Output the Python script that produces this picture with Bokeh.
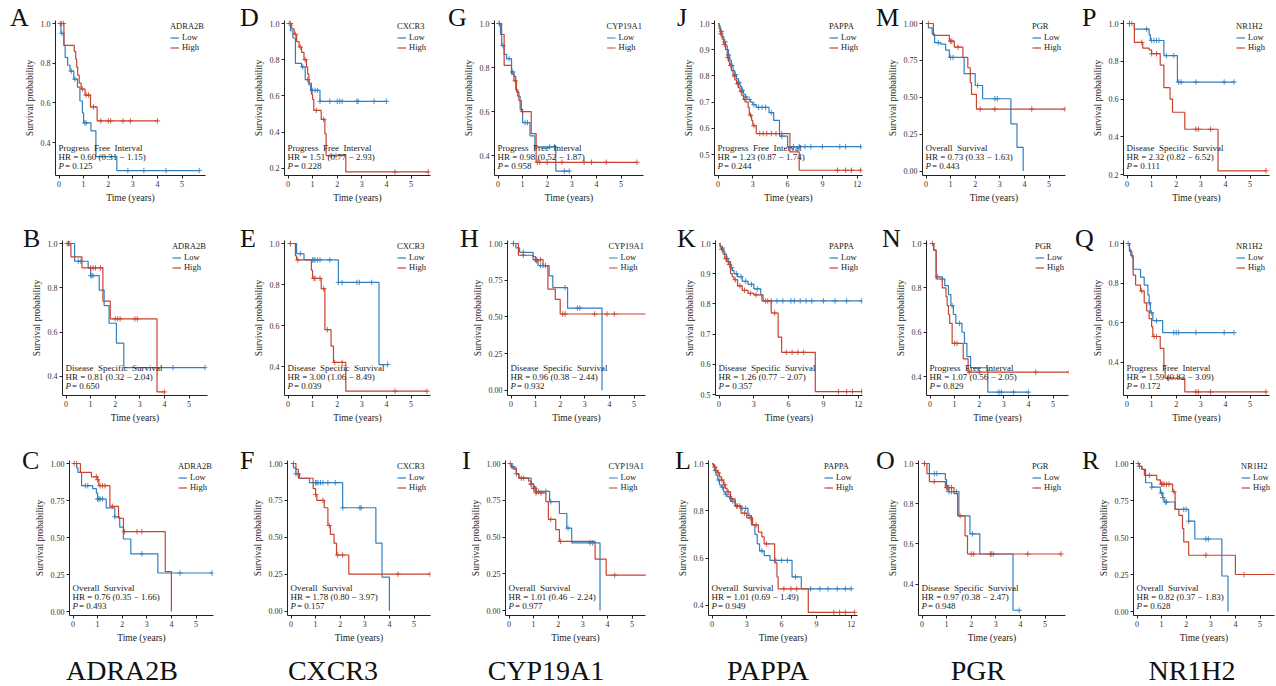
import numpy as np
from bokeh.plotting import figure
from bokeh.models import (Range1d, FixedTicker, Label, Legend, LegendItem,
                          PrintfTickFormatter, Div)
from bokeh.layouts import row, column
from bokeh.embed import file_html
from bokeh.resources import INLINE

# ---------------- data ----------------
GENES = ["ADRA2B", "CXCR3", "CYP19A1", "PAPPA", "PGR", "NR1H2"]
GRID = [["A", "D", "G", "J", "M", "P"],
        ["B", "E", "H", "K", "N", "Q"],
        ["C", "F", "I", "L", "O", "R"]]
ENDPOINT = {"PFI": "Progress \u00a0Free \u00a0Interval", "DSS": "Disease \u00a0Specific \u00a0Survival",
            "OS": "Overall \u00a0Survival"}
PANEL_ENDPOINT = {"A": "PFI", "D": "PFI", "G": "PFI", "J": "PFI", "M": "OS", "P": "DSS",
                  "B": "DSS", "E": "DSS", "H": "DSS", "K": "DSS", "N": "PFI", "Q": "PFI",
                  "C": "OS", "F": "OS", "I": "OS", "L": "OS", "O": "DSS", "R": "OS"}
HR = {"A": "0.60", "D": "1.51", "G": "0.98", "J": "1.23", "M": "0.73", "P": "2.32",
      "B": "0.81", "E": "3.00", "H": "0.96", "K": "1.26", "N": "1.07", "Q": "1.59",
      "C": "0.76", "F": "1.78", "I": "1.01", "L": "1.01", "O": "0.97", "R": "0.82"}
HR_LO = {"A": "0.31", "D": "0.77", "G": "0.52", "J": "0.87", "M": "0.33", "P": "0.82",
         "B": "0.32", "E": "1.06", "H": "0.38", "K": "0.77", "N": "0.56", "Q": "0.82",
         "C": "0.35", "F": "0.80", "I": "0.46", "L": "0.69", "O": "0.38", "R": "0.37"}
HR_HI = {"A": "1.15", "D": "2.93", "G": "1.87", "J": "1.74", "M": "1.63", "P": "6.52",
         "B": "2.04", "E": "8.49", "H": "2.44", "K": "2.07", "N": "2.05", "Q": "3.09",
         "C": "1.66", "F": "3.97", "I": "2.24", "L": "1.49", "O": "2.47", "R": "1.83"}
PVAL = {"A": "0.125", "D": "0.228", "G": "0.958", "J": "0.244", "M": "0.443", "P": "0.111",
        "B": "0.650", "E": "0.039", "H": "0.932", "K": "0.357", "N": "0.829", "Q": "0.172",
        "C": "0.493", "F": "0.157", "I": "0.977", "L": "0.949", "O": "0.948", "R": "0.628"}

# Kaplan-Meier curves: event times (years), survival after event, censor times
A_low_t = [0.08, 0.2, 0.25, 0.35, 0.45, 0.6, 0.75, 0.85, 0.95, 1.0, 1.3, 1.5, 2.35]
A_low_s = [0.95, 0.89, 0.83, 0.79, 0.76, 0.72, 0.68, 0.61, 0.55, 0.50, 0.46, 0.33, 0.26]
A_low_c = [0.12, 0.5, 0.65, 1.05, 1.1, 2.8, 3.45, 4.35, 5.7]
A_high_t = [0.2, 0.62, 0.68, 0.72, 0.76, 0.82, 0.9, 1.06, 1.28, 1.55]
A_high_s = [0.89, 0.86, 0.82, 0.78, 0.74, 0.70, 0.67, 0.64, 0.58, 0.51]
A_high_c = [0.05, 0.1, 0.18, 0.95, 1.1, 1.2, 1.4, 1.7, 2.0, 2.1, 2.6, 2.9, 4.0]

D_low_t = [0.1, 0.2, 0.3, 0.55, 0.7, 0.85, 0.92, 1.3]
D_low_s = [0.96, 0.92, 0.78, 0.76, 0.69, 0.66, 0.63, 0.57]
D_low_c = [0.05, 0.6, 0.8, 1.0, 1.1, 1.2, 1.3, 1.7, 2.0, 2.1, 2.2, 2.8, 2.85, 3.5, 4.0]
D_high_t = [0.15, 0.25, 0.35, 0.45, 0.55, 0.65, 0.75, 0.8, 0.85, 0.95, 1.0, 1.05, 1.35, 1.5, 1.55, 2.35]
D_high_s = [0.97, 0.94, 0.90, 0.87, 0.84, 0.80, 0.76, 0.72, 0.67, 0.61, 0.58, 0.52, 0.47, 0.39, 0.27, 0.18]
D_high_c = [0.1, 0.3, 0.5, 0.7, 1.15, 1.45, 1.75, 1.95, 4.35, 5.7]

G_low_t = [0.1, 0.15, 0.25, 0.35, 0.55, 0.65, 0.72, 0.8, 0.9, 1.0, 1.3, 1.5, 2.35]
G_low_s = [0.95, 0.90, 0.86, 0.84, 0.78, 0.76, 0.70, 0.67, 0.61, 0.55, 0.49, 0.44, 0.33]
G_low_c = [0.05, 0.2, 0.45, 0.6, 1.1, 1.2, 2.1, 2.3, 2.7, 2.9]
G_high_t = [0.15, 0.25, 0.55, 0.65, 0.75, 0.85, 0.95, 1.35, 1.55]
G_high_s = [0.95, 0.81, 0.77, 0.74, 0.69, 0.65, 0.60, 0.50, 0.37]
G_high_c = [0.05, 0.7, 1.0, 1.6, 1.7, 2.0, 2.6, 3.5, 3.8, 4.4, 5.65]

J_low_t = [0.1, 0.2, 0.35, 0.5, 0.65, 0.8, 0.9, 1.0, 1.15, 1.3, 1.45, 1.6, 1.75, 1.9, 2.05, 2.2,
           2.35, 2.5, 2.8, 3.0, 3.3, 4.4, 4.8, 5.3, 6.0]
J_low_s = [0.99, 0.97, 0.95, 0.93, 0.915, 0.90, 0.88, 0.86, 0.84, 0.82, 0.805, 0.79, 0.775, 0.76,
           0.745, 0.73, 0.72, 0.71, 0.70, 0.69, 0.68, 0.66, 0.63, 0.57, 0.53]
J_low_c = [0.3, 0.6, 0.9, 1.2, 1.5, 1.8, 2.1, 2.4, 2.7, 3.1, 3.5, 3.8, 4.1, 4.6, 5.5, 6.5, 7.0,
           7.5, 8.0, 9.0, 10.5, 11.0, 12.3]
J_high_t = [0.1, 0.2, 0.35, 0.5, 0.65, 0.8, 0.9, 1.0, 1.15, 1.3, 1.45, 1.6, 1.75, 1.9, 2.05, 2.2,
            2.4, 2.6, 2.7, 2.9, 3.0, 3.3, 6.2, 7.0]
J_high_s = [0.98, 0.96, 0.94, 0.92, 0.90, 0.87, 0.855, 0.84, 0.82, 0.80, 0.785, 0.77, 0.755, 0.74,
            0.725, 0.71, 0.70, 0.68, 0.65, 0.63, 0.61, 0.58, 0.51, 0.44]
J_high_c = [0.25, 0.55, 0.85, 1.1, 1.4, 1.7, 2.0, 2.3, 2.8, 3.1, 3.6, 3.9, 4.2, 4.6, 5.0, 5.5,
            10.3, 11.0, 11.5, 12.3]

M_low_t = [0.1, 0.25, 0.35, 0.6, 0.8, 0.95, 1.55, 2.0, 2.3, 3.45, 3.7, 3.95]
M_low_s = [0.97, 0.93, 0.87, 0.86, 0.82, 0.77, 0.66, 0.58, 0.49, 0.32, 0.16, 0.0]
M_low_c = [0.5, 1.0, 1.1, 2.1, 2.8, 2.9]
M_high_t = [0.3, 0.95, 1.15, 1.5, 1.7, 1.8, 1.85, 2.05]
M_high_s = [0.92, 0.88, 0.84, 0.77, 0.70, 0.60, 0.52, 0.42]
M_high_c = [0.1, 1.0, 1.05, 1.3, 2.2, 2.8, 4.3, 5.65]

P_low_t = [0.3, 0.9, 0.95, 1.5, 2.05]
P_low_s = [0.97, 0.94, 0.91, 0.83, 0.69]
P_low_c = [0.1, 0.2, 0.8, 1.0, 1.1, 1.2, 1.3, 1.6, 1.9, 2.1, 2.2, 2.8, 3.95, 4.35]
P_high_t = [0.3, 0.64, 0.9, 1.0, 1.35, 1.5, 1.75, 1.85, 2.35, 3.7]
P_high_s = [0.90, 0.87, 0.86, 0.84, 0.78, 0.66, 0.60, 0.53, 0.44, 0.22]
P_high_c = [0.1, 0.6, 1.0, 1.2, 2.8, 2.9, 3.4, 5.65]

B_low_t = [0.35, 0.9, 1.0, 1.35, 1.55, 1.75, 2.05, 2.35]
B_low_s = [0.92, 0.89, 0.855, 0.79, 0.72, 0.64, 0.55, 0.44]
B_low_c = [0.1, 0.5, 0.6, 1.0, 1.05, 1.1, 4.35, 5.65]
B_high_t = [0.2, 0.65, 1.5, 1.8, 3.7]
B_high_s = [0.94, 0.89, 0.74, 0.66, 0.33]
B_high_c = [0.05, 0.1, 0.15, 1.0, 1.1, 1.2, 1.4, 2.0, 2.1, 2.2, 2.8, 2.9, 4.0]

E_low_t = [0.35, 0.65, 2.05, 3.7]
E_low_s = [0.95, 0.92, 0.81, 0.41]
E_low_c = [0.1, 0.5, 1.0, 1.05, 1.1, 1.2, 1.3, 1.7, 2.05, 2.2, 2.8, 2.9, 3.4, 4.05]
E_high_t = [0.3, 0.35, 0.95, 1.0, 1.35, 1.5, 1.75, 1.85, 2.35]
E_high_s = [0.94, 0.92, 0.87, 0.83, 0.78, 0.58, 0.50, 0.42, 0.28]
E_high_c = [0.1, 0.4, 1.05, 1.1, 1.3, 1.45, 1.6, 1.9, 2.2, 4.35, 5.65]

H_low_t = [0.2, 0.35, 0.9, 1.0, 1.1, 1.55, 1.7, 2.3, 3.7]
H_low_s = [0.97, 0.94, 0.91, 0.88, 0.85, 0.78, 0.70, 0.56, 0.0]
H_low_c = [0.1, 0.5, 1.05, 1.2, 1.3, 2.2, 2.7, 2.8]
H_high_t = [0.3, 0.9, 1.3, 1.5, 1.8, 2.0]
H_high_s = [0.92, 0.89, 0.85, 0.69, 0.62, 0.52]
H_high_c = [0.1, 0.5, 1.0, 1.05, 1.2, 1.4, 2.1, 2.2, 3.4, 3.9, 4.2, 5.65]

K_low_t = [0.1, 0.2, 0.35, 0.5, 0.65, 0.8, 1.0, 1.15, 1.3, 1.6, 2.0, 2.5, 3.0, 3.6, 3.8]
K_low_s = [0.99, 0.985, 0.975, 0.965, 0.95, 0.94, 0.92, 0.91, 0.90, 0.89, 0.875, 0.865, 0.85, 0.83, 0.81]
K_low_c = [0.3, 0.7, 1.1, 1.5, 1.9, 2.3, 2.8, 3.3, 4.0, 4.5, 5.0, 5.5, 6.2, 6.5, 7.0, 7.5, 8.0,
           9.0, 10.0, 11.0, 12.3]
K_high_t = [0.1, 0.2, 0.35, 0.5, 0.65, 0.8, 1.0, 1.15, 1.3, 1.6, 2.0, 2.5, 3.0, 3.7, 4.5, 5.1, 5.4, 8.3]
K_high_s = [0.99, 0.98, 0.965, 0.95, 0.94, 0.93, 0.90, 0.89, 0.88, 0.86, 0.845, 0.835, 0.83, 0.81,
            0.77, 0.69, 0.64, 0.51]
K_high_c = [0.25, 0.6, 0.9, 1.4, 1.8, 2.2, 2.7, 3.2, 4.2, 4.8, 5.8, 6.3, 6.8, 7.3, 10.3, 11.0, 11.5, 12.3]

N_low_t = [0.15, 0.25, 0.5, 0.6, 0.75, 0.85, 0.95, 1.05, 1.3, 1.4, 1.5, 1.65, 2.35]
N_low_s = [0.97, 0.85, 0.84, 0.81, 0.77, 0.72, 0.68, 0.64, 0.60, 0.55, 0.49, 0.44, 0.33]
N_low_c = [0.3, 0.5, 0.9, 1.2, 2.8, 2.9, 3.4, 4.0]
N_high_t = [0.15, 0.25, 0.5, 0.65, 0.7, 0.75, 0.8, 0.9, 1.35, 1.55]
N_high_s = [0.97, 0.84, 0.80, 0.76, 0.72, 0.68, 0.64, 0.55, 0.48, 0.42]
N_high_c = [0.1, 1.0, 1.1, 1.6, 2.0, 4.3, 5.65]

Q_low_t = [0.1, 0.15, 0.25, 0.55, 0.7, 0.85, 0.9, 0.95, 1.05, 1.45]
Q_low_s = [0.97, 0.94, 0.87, 0.83, 0.79, 0.74, 0.70, 0.65, 0.61, 0.55]
Q_low_c = [0.05, 0.9, 1.0, 1.2, 1.9, 2.0, 2.1, 2.8, 3.95, 4.35]
Q_high_t = [0.1, 0.2, 0.25, 0.35, 0.55, 0.7, 0.8, 0.9, 1.0, 1.05, 1.35, 1.5, 1.55, 2.35]
Q_high_s = [0.96, 0.93, 0.84, 0.79, 0.76, 0.70, 0.66, 0.62, 0.58, 0.53, 0.47, 0.38, 0.32, 0.25]
Q_high_c = [0.6, 1.1, 1.2, 1.7, 2.8, 2.9, 3.4, 5.65]

C_low_t = [0.15, 0.2, 0.35, 0.8, 0.95, 1.0, 1.35, 1.7, 1.9, 2.05, 2.35, 3.45]
C_low_s = [0.97, 0.94, 0.85, 0.83, 0.80, 0.76, 0.70, 0.64, 0.57, 0.49, 0.39, 0.26]
C_low_c = [0.5, 0.6, 1.0, 1.05, 1.1, 1.2, 1.7, 2.8, 4.35, 5.65]
C_high_t = [0.3, 0.75, 1.0, 1.05, 1.5, 1.85, 2.05, 3.75, 4.0]
C_high_s = [0.94, 0.91, 0.89, 0.85, 0.71, 0.63, 0.54, 0.27, 0.0]
C_high_c = [0.05, 0.15, 0.95, 1.0, 1.1, 1.2, 1.3, 1.6, 2.1, 2.6, 2.8]

F_low_t = [0.1, 0.2, 0.35, 0.75, 2.1, 3.45, 3.7, 4.0]
F_low_s = [0.97, 0.93, 0.90, 0.87, 0.70, 0.46, 0.23, 0.0]
F_low_c = [0.2, 0.3, 1.0, 1.05, 1.1, 1.2, 1.3, 1.5, 1.8, 2.1, 2.8, 2.85]
F_high_t = [0.2, 0.3, 0.9, 1.0, 1.05, 1.35, 1.5, 1.6, 1.75, 1.85, 2.35]
F_high_s = [0.96, 0.90, 0.83, 0.79, 0.75, 0.70, 0.58, 0.52, 0.46, 0.38, 0.25]
F_high_c = [0.1, 1.0, 1.3, 1.55, 1.9, 2.1, 4.35, 5.65]

I_low_t = [0.1, 0.2, 0.3, 0.4, 0.9, 1.0, 1.1, 1.65, 2.05, 2.35, 2.55, 3.7]
I_low_s = [0.98, 0.96, 0.93, 0.90, 0.86, 0.84, 0.81, 0.74, 0.66, 0.56, 0.46, 0.0]
I_low_c = [0.15, 0.3, 0.6, 0.9, 1.0, 1.1, 1.2, 1.5, 1.7, 2.4, 3.3, 3.4]
I_high_t = [0.1, 0.3, 0.4, 0.8, 0.9, 1.0, 1.1, 1.5, 1.6, 1.9, 2.05, 3.5, 3.95]
I_high_s = [0.97, 0.93, 0.90, 0.88, 0.86, 0.83, 0.80, 0.74, 0.62, 0.55, 0.47, 0.35, 0.24]
I_high_c = [0.05, 0.5, 0.9, 1.0, 1.05, 1.1, 1.3, 1.7, 2.1, 4.3, 5.65]

L_low_t = [0.1, 0.2, 0.35, 0.5, 0.65, 0.8, 1.0, 1.15, 1.3, 1.6, 2.0, 2.5, 3.1, 3.4, 3.7, 3.9, 4.1,
           4.5, 5.0, 6.9, 7.7]
L_low_s = [0.99, 0.97, 0.95, 0.93, 0.91, 0.90, 0.88, 0.87, 0.86, 0.84, 0.82, 0.81, 0.78, 0.74, 0.70,
           0.66, 0.63, 0.61, 0.59, 0.52, 0.47]
L_low_c = [0.3, 0.6, 0.9, 1.2, 1.5, 1.8, 2.2, 2.6, 2.9, 3.2, 4.3, 5.5, 6.0, 6.5, 7.2, 8.5, 9.3,
           10.0, 10.8, 11.5, 12.0]
L_high_t = [0.1, 0.2, 0.35, 0.5, 0.65, 0.8, 1.0, 1.15, 1.3, 1.6, 2.0, 2.5, 3.0, 3.5, 4.0, 4.3, 4.5,
            5.4, 5.6, 5.7, 8.3]
L_high_s = [0.995, 0.985, 0.97, 0.96, 0.945, 0.93, 0.91, 0.895, 0.88, 0.85, 0.82, 0.79, 0.77, 0.74,
            0.71, 0.69, 0.66, 0.58, 0.52, 0.47, 0.37]
L_high_c = [0.25, 0.55, 0.85, 1.1, 1.4, 1.7, 2.1, 2.4, 2.8, 3.3, 3.8, 4.7, 6.2, 6.8, 7.3, 10.5,
            11.0, 11.5, 12.3]

O_low_t = [0.3, 0.95, 1.0, 1.05, 1.5, 1.95, 2.35, 3.7]
O_low_s = [0.95, 0.92, 0.89, 0.86, 0.74, 0.65, 0.55, 0.27]
O_low_c = [0.1, 0.5, 0.6, 1.1, 1.2, 1.4, 2.05, 2.8, 2.9, 3.95]
O_high_t = [0.2, 0.3, 0.95, 1.3, 1.45, 1.75, 1.85]
O_high_s = [0.95, 0.91, 0.88, 0.85, 0.74, 0.64, 0.55]
O_high_c = [0.1, 0.5, 1.0, 1.05, 1.1, 1.2, 1.55, 2.0, 2.1, 2.8, 4.3, 5.65]

R_low_t = [0.1, 0.2, 0.35, 0.6, 0.95, 1.05, 1.1, 1.55, 2.1, 2.35, 3.45, 3.7]
R_low_s = [0.98, 0.96, 0.87, 0.84, 0.80, 0.77, 0.74, 0.69, 0.61, 0.49, 0.24, 0.0]
R_low_c = [0.1, 0.6, 1.0, 1.05, 1.15, 1.2, 1.9, 2.0, 2.1, 2.8, 2.9]
R_high_t = [0.1, 0.2, 0.3, 0.8, 0.95, 1.45, 1.55, 1.7, 1.85, 1.9, 2.1, 4.0]
R_high_s = [0.98, 0.96, 0.92, 0.89, 0.86, 0.81, 0.69, 0.65, 0.56, 0.47, 0.38, 0.25]
R_high_c = [0.05, 0.5, 1.0, 1.05, 1.1, 1.2, 1.3, 1.5, 2.8, 4.35, 5.65]

Y_TICKS = {
    "A": [0.4, 0.6, 0.8, 1.0], "D": [0.2, 0.4, 0.6, 0.8, 1.0], "G": [0.4, 0.6, 0.8, 1.0],
    "J": [0.5, 0.6, 0.7, 0.8, 0.9, 1.0], "M": [0, 0.25, 0.5, 0.75, 1.0], "P": [0.2, 0.4, 0.6, 0.8, 1.0],
    "B": [0.4, 0.6, 0.8, 1.0], "E": [0.4, 0.6, 0.8, 1.0], "H": [0, 0.25, 0.5, 0.75, 1.0],
    "K": [0.5, 0.6, 0.7, 0.8, 0.9, 1.0], "N": [0.4, 0.6, 0.8, 1.0], "Q": [0.4, 0.6, 0.8, 1.0],
    "C": [0, 0.25, 0.5, 0.75, 1.0], "F": [0, 0.25, 0.5, 0.75, 1.0], "I": [0, 0.25, 0.5, 0.75, 1.0],
    "L": [0.4, 0.6, 0.8, 1.0], "O": [0.4, 0.6, 0.8, 1.0], "R": [0, 0.25, 0.5, 0.75, 1.0]}
X_TICKS_YEARS = [0, 1, 2, 3, 4, 5]
X_TICKS_PAPPA = [0, 3, 6, 9, 12]

# ---------------- layout / style ----------------
SERIF = "Liberation Serif"
LOW_COL = "#2f7fc1"
HIGH_COL = "#c9432f"
TXT = "#222222"

ROW_H = [220, 220, 212]
BOTTOM_H = 686 - sum(ROW_H)
TOP_B = 20
FRAME_H = 155
LEFT_B = 42                      # room reserved left of every frame for the y axis

FRAME_LR = {"A": (55, 205), "D": (284, 430), "G": (494, 643), "J": (714, 862), "M": (922, 1065), "P": (1123, 1269),
            "B": (62, 207), "E": (284, 430), "H": (507, 645), "K": (715, 862), "N": (926, 1068), "Q": (1123, 1269),
            "C": (69, 213), "F": (287, 430), "I": (505, 645), "L": (708, 857), "O": (918, 1065), "R": (1133, 1274)}
Y_AXIS_MIN = {"A": 0.235, "D": 0.16, "G": 0.31, "J": 0.42, "M": -0.03, "P": 0.195,
              "B": 0.314, "E": 0.259, "H": -0.035, "K": 0.497, "N": 0.315, "Q": 0.232,
              "C": -0.027, "F": -0.03, "I": -0.034, "L": 0.357, "O": 0.244, "R": -0.027}
LETTER_X = {"A": 10, "D": 240, "G": 448, "J": 677, "M": 876, "P": 1082,
            "B": 23, "E": 240, "H": 460, "K": 677, "N": 882, "Q": 1075,
            "C": 22, "F": 240, "I": 462, "L": 675, "O": 876, "R": 1082}
LETTER_TOP = [5, 6, 8]          # top of the 26px letter box below each row top
GENE_CX = [122, 333, 546, 768, 978, 1192]
GENE_TOP = 5                    # top of the 28px gene-name box inside the bottom strip


def km_steps(t, s, c):
    end = max([t[-1]] + list(c))
    return [0.0] + list(t) + [end], [1.0] + list(s) + [s[-1]]


def cens_vals(t, s, c):
    idx = np.searchsorted(np.array(t), np.array(c), side="right")
    return list(c), list(np.array([1.0] + list(s))[idx])


def text_div(w, h, pieces, size):
    html = "".join(
        f'<div style="position:absolute;left:{x}px;top:{y}px;font-family:\'{SERIF}\',serif;'
        f'font-size:{size}px;line-height:1;color:#111111;white-space:nowrap;'
        f'transform:translateX({tx}%)">{txt}</div>'
        for (x, y, txt, tx) in pieces)
    return Div(text=html, width=w, height=h, margin=0,
               styles={"overflow": "visible", "position": "relative", "z-index": "5"})


def panel(letter, r, ci, fs, fe):
    gene = GENES[ci]
    fl, fr = FRAME_LR[letter]
    h = ROW_H[r]
    bb = h - TOP_B - FRAME_H
    w = fr - fl
    pappa = gene == "PAPPA"
    ppy = 11.6 if pappa else 24.6
    x0 = -3.5 / ppy
    x1 = x0 + w / ppy
    ymin = Y_AXIS_MIN[letter]
    ymax = ymin + (1 - ymin) * FRAME_H / (FRAME_H - 3)

    p = figure(width=fe - fs, height=h, x_range=Range1d(x0, x1), y_range=Range1d(ymin, ymax),
               output_backend="svg", toolbar_location=None, tools="",
               min_border_left=fl - fs, min_border_right=fe - fr,
               min_border_top=TOP_B, min_border_bottom=bb,
               outline_line_color=None, background_fill_color="white",
               border_fill_color=None)
    p.xgrid.visible = False
    p.ygrid.visible = False

    yt = Y_TICKS[letter]
    p.yaxis.ticker = FixedTicker(ticks=yt)
    p.yaxis.formatter = PrintfTickFormatter(format="%.2f" if 0.25 in yt else "%.1f")
    p.xaxis.ticker = FixedTicker(ticks=X_TICKS_PAPPA if pappa else X_TICKS_YEARS)
    p.xaxis.formatter = PrintfTickFormatter(format="%d")
    p.xaxis.axis_label = "Time (years)"
    p.yaxis.axis_label = "Survival probability"
    for ax in (p.xaxis[0], p.yaxis[0]):
        ax.axis_line_color = TXT
        ax.axis_line_width = 1
        ax.major_tick_line_color = TXT
        ax.major_tick_in = 0
        ax.major_tick_out = 3
        ax.minor_tick_out = 0
        ax.minor_tick_in = 0
        ax.major_label_text_font = SERIF
        ax.major_label_text_font_size = "8px"
        ax.major_label_text_color = "#333333"
        ax.major_label_standoff = 2
        ax.axis_label_text_font = SERIF
        ax.axis_label_text_font_size = "9.5px"
        ax.axis_label_text_font_style = "normal"
        ax.axis_label_text_color = TXT
        ax.axis_label_standoff = 3

    g = globals()
    rends = []
    for grp, col in (("low", LOW_COL), ("high", HIGH_COL)):
        t, s, c = g[f"{letter}_{grp}_t"], g[f"{letter}_{grp}_s"], g[f"{letter}_{grp}_c"]
        xs, ys = km_steps(t, s, c)
        rr = p.step(xs, ys, mode="after", line_color=col, line_width=1.2)
        cx, cy = cens_vals(t, s, c)
        p.scatter(cx, cy, marker="cross", size=5.5, line_color=col, line_width=1, line_alpha=0.85)
        rends.append(rr)

    leg = Legend(items=[LegendItem(label="Low", renderers=[rends[0]]),
                        LegendItem(label="High", renderers=[rends[1]])],
                 title=gene, location="top_right", margin=1, padding=0, spacing=0,
                 label_height=9, glyph_height=9, glyph_width=9, label_standoff=3,
                 title_standoff=1, background_fill_alpha=0, border_line_alpha=0,
                 label_text_font=SERIF, label_text_font_size="8.5px", label_text_color=TXT,
                 title_text_font=SERIF, title_text_font_size="8.5px", title_text_color=TXT,
                 title_text_font_style="normal")
    p.add_layout(leg)

    common = dict(x_units="screen", y_units="screen", text_font=SERIF, text_font_size="9px",
                  text_color=TXT, text_baseline="middle")
    p.add_layout(Label(x=3, y=28, text=ENDPOINT[PANEL_ENDPOINT[letter]], **common))
    p.add_layout(Label(x=3, y=19, text=f"HR = {HR[letter]}  ({HR_LO[letter]} \u2212 {HR_HI[letter]})", **common))
    p.add_layout(Label(x=3, y=10, text="P", text_font_style="italic", **common))
    p.add_layout(Label(x=9.5, y=10, text=f"= {PVAL[letter]}", **common))
    return p


rows = []
for r in range(3):
    items = []
    prev_end = 0
    for ci in range(6):
        letter = GRID[r][ci]
        fl, fr = FRAME_LR[letter]
        fs = fl - LEFT_B
        fe = 1276 if ci == 5 else fr + 2
        items.append(text_div(fs - prev_end, ROW_H[r],
                              [(LETTER_X[letter] - prev_end, LETTER_TOP[r], letter, 0)], 26))
        items.append(panel(letter, r, ci, fs, fe))
        prev_end = fe
    rows.append(row(items, spacing=0))

rows.append(text_div(1276, BOTTOM_H, [(cx, GENE_TOP, gname, -50) for cx, gname in zip(GENE_CX, GENES)], 28))
layout = column(rows, spacing=0)

open("out.html", "w").write(file_html(layout, INLINE))
